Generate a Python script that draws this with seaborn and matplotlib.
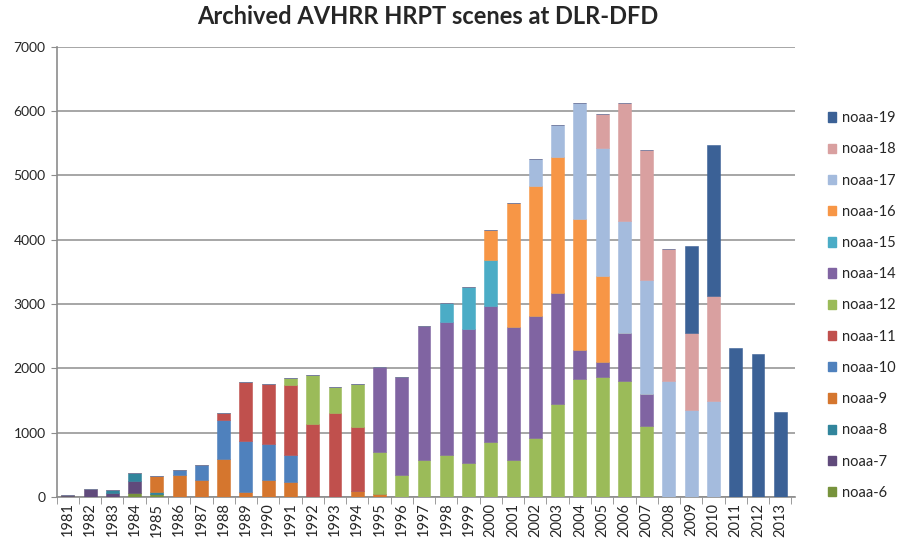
import matplotlib
matplotlib.use("Agg")
import matplotlib.pyplot as plt
from matplotlib.patches import Patch
import numpy as np
import pandas as pd
import seaborn as sns

years = ["1981", "1982", "1983", "1984", "1985", "1986", "1987", "1988", "1989", "1990", "1991",
         "1992", "1993", "1994", "1995", "1996", "1997", "1998", "1999", "2000", "2001", "2002",
         "2003", "2004", "2005", "2006", "2007", "2008", "2009", "2010", "2011", "2012", "2013"]

# archived scenes per satellite and year
noaa_6 = [10, 0, 0, 60, 40, 0, 0, 0, 0, 0, 0,
          0, 0, 0, 0, 0, 0, 0, 0, 0, 0, 0,
          0, 0, 0, 0, 0, 0, 0, 0, 0, 0, 0]
noaa_7 = [20, 130, 70, 195, 0, 0, 0, 0, 0, 0, 0,
          0, 0, 0, 0, 0, 0, 0, 0, 0, 0, 0,
          0, 0, 0, 0, 0, 0, 0, 0, 0, 0, 0]
noaa_8 = [0, 0, 40, 120, 40, 0, 0, 0, 0, 0, 0,
          0, 0, 0, 0, 0, 0, 0, 0, 0, 0, 0,
          0, 0, 0, 0, 0, 0, 0, 0, 0, 0, 0]
noaa_9 = [0, 0, 0, 0, 240, 340, 270, 590, 80, 270, 240,
          0, 0, 100, 40, 0, 0, 0, 0, 0, 0, 0,
          0, 0, 0, 0, 0, 0, 0, 0, 0, 0, 0]
noaa_10 = [0, 0, 0, 0, 0, 80, 230, 610, 790, 550, 420,
           0, 0, 0, 0, 0, 0, 0, 0, 0, 0, 0,
           0, 0, 0, 0, 0, 0, 0, 0, 0, 0, 0]
noaa_11 = [0, 0, 0, 0, 0, 0, 0, 110, 920, 940, 1080,
           1130, 1300, 990, 0, 0, 0, 0, 0, 0, 0, 0,
           0, 0, 0, 0, 0, 0, 0, 0, 0, 0, 0]
noaa_12 = [0, 0, 0, 0, 0, 0, 0, 0, 0, 0, 110,
           760, 410, 670, 660, 350, 570, 650, 530, 850, 580, 920,
           1440, 1830, 1860, 1810, 1100, 0, 0, 0, 0, 0, 0]
noaa_14 = [0, 0, 0, 0, 0, 0, 0, 0, 0, 0, 0,
           0, 0, 0, 1320, 1510, 2090, 2070, 2080, 2120, 2070, 1890,
           1740, 450, 240, 740, 500, 0, 0, 0, 0, 0, 0]
noaa_15 = [0, 0, 0, 0, 0, 0, 0, 0, 0, 0, 0,
           0, 0, 0, 0, 0, 0, 290, 650, 720, 0, 0,
           0, 0, 0, 0, 0, 0, 0, 0, 0, 0, 0]
noaa_16 = [0, 0, 0, 0, 0, 0, 0, 0, 0, 0, 0,
           0, 0, 0, 0, 0, 0, 0, 0, 470, 1930, 2030,
           2100, 2040, 1330, 0, 0, 0, 0, 0, 0, 0, 0]
noaa_17 = [0, 0, 0, 0, 0, 0, 0, 0, 0, 0, 0,
           0, 0, 0, 0, 0, 0, 0, 0, 0, 0, 410,
           510, 1810, 1990, 1750, 1780, 1800, 1350, 1490, 0, 0, 0]
noaa_18 = [0, 0, 0, 0, 0, 0, 0, 0, 0, 0, 0,
           0, 0, 0, 0, 0, 0, 0, 0, 0, 0, 0,
           0, 0, 540, 1830, 2010, 2060, 1200, 1630, 0, 0, 0]
noaa_19 = [0, 0, 0, 0, 0, 0, 0, 0, 0, 0, 0,
           0, 0, 0, 0, 0, 0, 0, 0, 0, 0, 0,
           0, 0, 0, 0, 0, 0, 1360, 2360, 2320, 2220, 1330]

# stacking order, bottom to top
series = [
    ("noaa-6", noaa_6, "#77933c"),
    ("noaa-7", noaa_7, "#604a7b"),
    ("noaa-8", noaa_8, "#31859c"),
    ("noaa-9", noaa_9, "#d5762e"),
    ("noaa-10", noaa_10, "#4f81bd"),
    ("noaa-11", noaa_11, "#c0504d"),
    ("noaa-12", noaa_12, "#9bbb59"),
    ("noaa-14", noaa_14, "#8064a2"),
    ("noaa-15", noaa_15, "#4bacc6"),
    ("noaa-16", noaa_16, "#f79646"),
    ("noaa-17", noaa_17, "#a4bbdd"),
    ("noaa-18", noaa_18, "#d9a0a0"),
    ("noaa-19", noaa_19, "#3b6196"),
]

sns.set_style("white")
plt.rcParams["font.family"] = ["Lato", "DejaVu Sans"]

fig = plt.figure(figsize=(9, 5.45), dpi=100)
ax = fig.add_axes([0.063, 0.088, 0.82, 0.826])

bottom = np.zeros(len(years))
for name, vals, color in series:
    vals = np.array(vals, dtype=float)
    df = pd.DataFrame({"year": years, "scenes": vals})
    sns.barplot(data=df, x="year", y="scenes", order=years, color=color,
                saturation=1, bottom=bottom, width=0.58, edgecolor=color,
                linewidth=0.4, errorbar=None, ax=ax, zorder=3)
    bottom = bottom + vals

ax.set_ylim(0, 7000)
ax.set_xlim(-0.5, len(years) - 0.35)
ax.set_yticks(range(0, 7001, 1000))
ax.yaxis.grid(True, color="#a6a6a6", linewidth=1.4, zorder=0)
ax.xaxis.grid(False)
ax.set_xlabel("")
ax.set_ylabel("")

for side in ["top", "right"]:
    ax.spines[side].set_visible(False)
for side in ["left", "bottom"]:
    ax.spines[side].set_color("#8c8c8c")
    ax.spines[side].set_linewidth(1.2)

ax.tick_params(axis="y", labelsize=10, length=4, color="#8c8c8c", left=True, pad=4)
ax.tick_params(axis="x", labelsize=10.5, rotation=90, length=0, pad=4)
ax.set_xticks(np.arange(-0.5, len(years), 1), minor=True)
ax.tick_params(axis="x", which="minor", length=5, color="#8c8c8c", bottom=True)

fig.suptitle("Archived AVHRR HRPT scenes at DLR-DFD", x=0.475, y=0.99,
             fontsize=17, fontweight="bold")

handles = [Patch(facecolor=c, edgecolor=c, label=n) for n, v, c in series][::-1]
fig.legend(handles=handles, loc="upper left", bbox_to_anchor=(0.905, 0.82),
           frameon=False, fontsize=10.5, labelspacing=1.18, handlelength=0.6,
           handleheight=0.6, handletextpad=0.4)

fig.savefig("out.png", dpi=100)
